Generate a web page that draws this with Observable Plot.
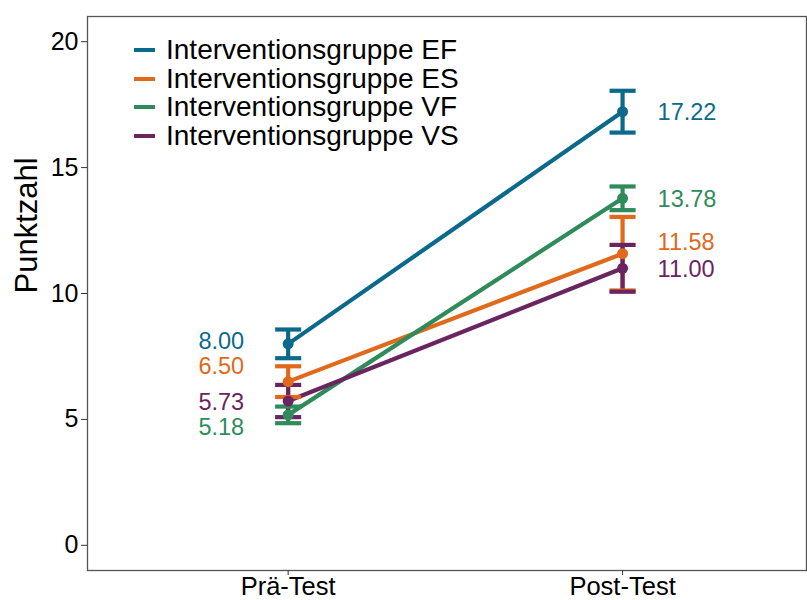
<!DOCTYPE html>
<html>
<head>
<meta charset="utf-8">
<script src="https://cdn.jsdelivr.net/npm/d3@7"></script>
<script src="https://cdn.jsdelivr.net/npm/@observablehq/plot@0.6"></script>
<style>
  body { margin: 0; background: #fff; font-family: "Liberation Sans", Arial, sans-serif; }
  #wrap { position: relative; width: 807px; height: 600px; }
  #legend { position: absolute; left: 134px; top: 36px; font-size: 28px; line-height: 28.5px; color: #000; }
  #legend .row { display: flex; align-items: center; height: 28.5px; white-space: nowrap; }
  #legend .sw { width: 21px; height: 4px; margin-right: 11px; }
</style>
</head>
<body>
<div id="wrap"><div id="legend"></div></div>
<script>
const groups = ["Interventionsgruppe EF", "Interventionsgruppe ES", "Interventionsgruppe VF", "Interventionsgruppe VS"];
const colors = ["#0b6a8b", "#e1691b", "#2f8b5a", "#6a2560"];
const times = ["Prä-Test", "Post-Test"];
const preMeans = [8.00, 6.50, 5.18, 5.73];
const postMeans = [17.22, 11.58, 13.78, 11.00];
const preErr = [0.57, 0.61, 0.33, 0.64];
const postErr = [0.83, 1.46, 0.47, 0.93];
const preLabelY = [8.10, 7.11, 4.68, 5.68];
const postLabelY = [17.18, 12.01, 13.75, 10.97];

const data = [];
groups.forEach((g, i) => {
  data.push({group: g, t: 1, mean: preMeans[i], lo: preMeans[i] - preErr[i], hi: preMeans[i] + preErr[i], ly: preLabelY[i]});
  data.push({group: g, t: 2, mean: postMeans[i], lo: postMeans[i] - postErr[i], hi: postMeans[i] + postErr[i], ly: postLabelY[i]});
});
const capHalf = 0.039;
const font = "Liberation Sans, Arial, sans-serif";

const chart = Plot.plot({
  width: 807, height: 600,
  marginLeft: 87, marginRight: 1, marginTop: 16, marginBottom: 30,
  style: {fontFamily: font, background: "#fff", color: "#000"},
  x: {domain: [0.4, 2.55]},
  y: {domain: [-1, 21]},
  color: {domain: groups, range: colors},
  marks: [
    Plot.frame({stroke: "#555", strokeWidth: 1.3}),
    Plot.axisX({ticks: [1, 2], tickFormat: d => times[d - 1], fontSize: 25.5, tickSize: 5, tickPadding: 1, label: null, stroke: "#333"}),
    Plot.axisY({ticks: [0, 5, 10, 15, 20], fontSize: 25, tickSize: 6, tickPadding: 3, label: null, stroke: "#333"}),
    Plot.text(["Punktzahl"], {frameAnchor: "left", dx: -60, rotate: -90, fontSize: 31, fill: "#000", fontFamily: font}),
    Plot.line(data, {x: "t", y: "mean", stroke: "group", strokeWidth: 4.2, z: "group"}),
    Plot.ruleX(data, {x: "t", y1: "lo", y2: "hi", stroke: "group", strokeWidth: 4.2}),
    Plot.link(data, {x1: d => d.t - capHalf, x2: d => d.t + capHalf, y1: "hi", y2: "hi", stroke: "group", strokeWidth: 4.2}),
    Plot.link(data, {x1: d => d.t - capHalf, x2: d => d.t + capHalf, y1: "lo", y2: "lo", stroke: "group", strokeWidth: 4.2}),
    Plot.dot(data, {x: "t", y: "mean", fill: "group", r: 5.5}),
    Plot.text(data.filter(d => d.t === 1), {x: "t", y: "ly", text: d => d.mean.toFixed(2), fill: "group", textAnchor: "end", dx: -44, fontSize: 23.5, fontFamily: font}),
    Plot.text(data.filter(d => d.t === 2), {x: "t", y: "ly", text: d => d.mean.toFixed(2), fill: "group", textAnchor: "start", dx: 35, fontSize: 23.5, fontFamily: font})
  ]
});
document.getElementById("wrap").prepend(chart);

const legend = document.getElementById("legend");
groups.forEach((g, i) => {
  const row = document.createElement("div");
  row.className = "row";
  const sw = document.createElement("div");
  sw.className = "sw";
  sw.style.background = colors[i];
  const lab = document.createElement("span");
  lab.textContent = g;
  row.appendChild(sw);
  row.appendChild(lab);
  legend.appendChild(row);
});
</script>
</body>
</html>
